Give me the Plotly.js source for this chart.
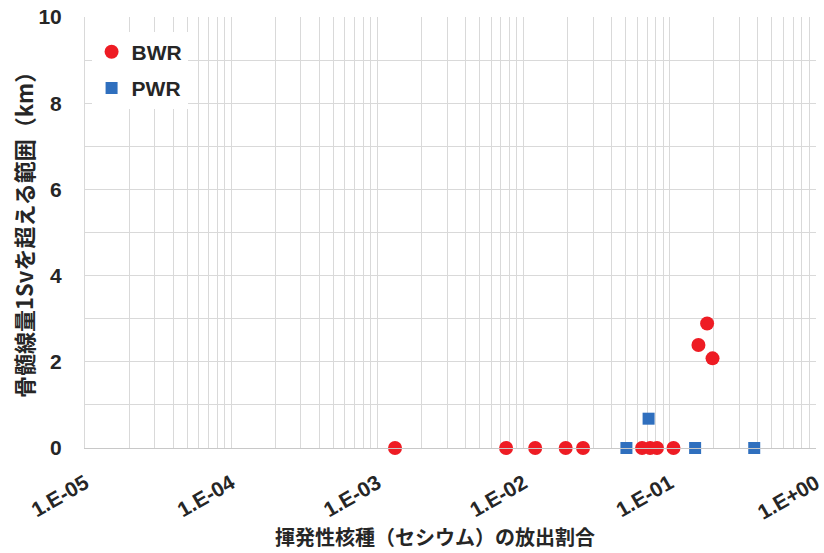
<!DOCTYPE html>
<html>
<head>
<meta charset="utf-8">
<script src="https://cdn.plot.ly/plotly-3.0.1.min.js"></script>
<style>html,body{margin:0;padding:0;background:#fff;}#chart{width:824px;height:553px;}</style>
</head>
<body>
<div id="chart"></div>
<script>
// ---- data ----
const xTickVals = [1e-5, 1e-4, 1e-3, 1e-2, 1e-1, 1];
const xTickText = ['1.E-05', '1.E-04', '1.E-03', '1.E-02', '1.E-01', '1.E+00'];
const yTickVals = [0, 2, 4, 6, 8, 10];

const bwrName = 'BWR';
const bwrX = [0.00132, 0.00759, 0.0120, 0.0194, 0.0255, 0.0646, 0.0734, 0.0817, 0.106, 0.157, 0.180, 0.196];
const bwrY = [0, 0, 0, 0, 0, 0, 0, 0, 0, 2.39, 2.89, 2.08];

const pwrName = 'PWR';
const pwrX = [0.0505, 0.0716, 0.149, 0.378];
const pwrY = [0, 0.68, 0, 0];

const xTitle = '揮発性核種（セシウム）の放出割合';
const yTitle = '骨髄線量1Svを超える範囲（km）';

// ---- minor gridlines for log axis (2..9 per decade) ----
const minorVals = [];
for (let e = -5; e < 0; e++) {
  for (let m = 2; m <= 9; m++) minorVals.push(m * Math.pow(10, e));
}

const fontLatin = '"Liberation Sans", Arial, sans-serif';
const fontJP = '"Noto Sans CJK JP", "Noto Sans", sans-serif';
const txtColor = '#262626';
const gridColor = '#d9d9d9';

const traces = [
  {
    x: bwrX, y: bwrY, name: bwrName, type: 'scatter', mode: 'markers',
    legendgroup: 'a', cliponaxis: false,
    marker: {symbol: 'circle', size: 14, color: '#ee1c24'}
  },
  {
    x: pwrX, y: pwrY, name: pwrName, type: 'scatter', mode: 'markers',
    legendgroup: 'b', cliponaxis: false,
    marker: {symbol: 'square', size: 12, color: '#2f6fbe'}
  }
];

const layout = {
  width: 824, height: 553,
  margin: {l: 85, r: 8, t: 17, b: 105},
  paper_bgcolor: '#ffffff', plot_bgcolor: '#ffffff',
  showlegend: true,
  legend: {
    x: 0.009, y: 0.966, xanchor: 'left', yanchor: 'top',
    bgcolor: '#ffffff', borderwidth: 0,
    traceorder: 'grouped', tracegroupgap: 6,
    itemwidth: 30,
    font: {family: fontLatin, size: 21, weight: 700, color: txtColor}
  },
  xaxis: {
    type: 'log', range: [-5, 0],
    tickmode: 'array', tickvals: xTickVals, ticktext: xTickText,
    tickangle: -30, ticklabeloverflow: 'allow',
    tickfont: {family: fontLatin, size: 21, weight: 700, color: txtColor},
    showgrid: true, gridcolor: gridColor, gridwidth: 1,
    minor: {tickmode: 'array', tickvals: minorVals, showgrid: true, gridcolor: gridColor, gridwidth: 1, ticks: ''},
    showline: true, linecolor: '#c8c8c8', linewidth: 1,
    zeroline: false, ticks: '', ticklabelstandoff: 14, fixedrange: true
  },
  yaxis: {
    range: [0, 10],
    tickmode: 'array', tickvals: yTickVals,
    tickfont: {family: fontLatin, size: 21, weight: 700, color: txtColor},
    showgrid: true, gridcolor: gridColor, gridwidth: 1,
    minor: {dtick: 1, showgrid: true, gridcolor: gridColor, gridwidth: 1, ticks: ''},
    showline: true, linecolor: '#d9d9d9', linewidth: 1,
    zeroline: false, ticks: '', ticklabelstandoff: 18, fixedrange: true
  },
  annotations: [
    {
      text: xTitle, xref: 'paper', yref: 'paper',
      x: (435 - 85) / 731, y: -(536 - 448) / 431, xanchor: 'center', yanchor: 'middle',
      showarrow: false,
      font: {family: fontJP, size: 20, weight: 700, color: txtColor}
    },
    {
      text: yTitle, xref: 'paper', yref: 'paper',
      x: -(85 - 23) / 731, y: (448 - 230) / 431, xanchor: 'center', yanchor: 'middle',
      textangle: -90, showarrow: false,
      font: {family: fontJP, size: 22, weight: 700, color: txtColor}
    }
  ]
};

Plotly.newPlot('chart', traces, layout, {displayModeBar: false, staticPlot: true});
</script>
</body>
</html>
